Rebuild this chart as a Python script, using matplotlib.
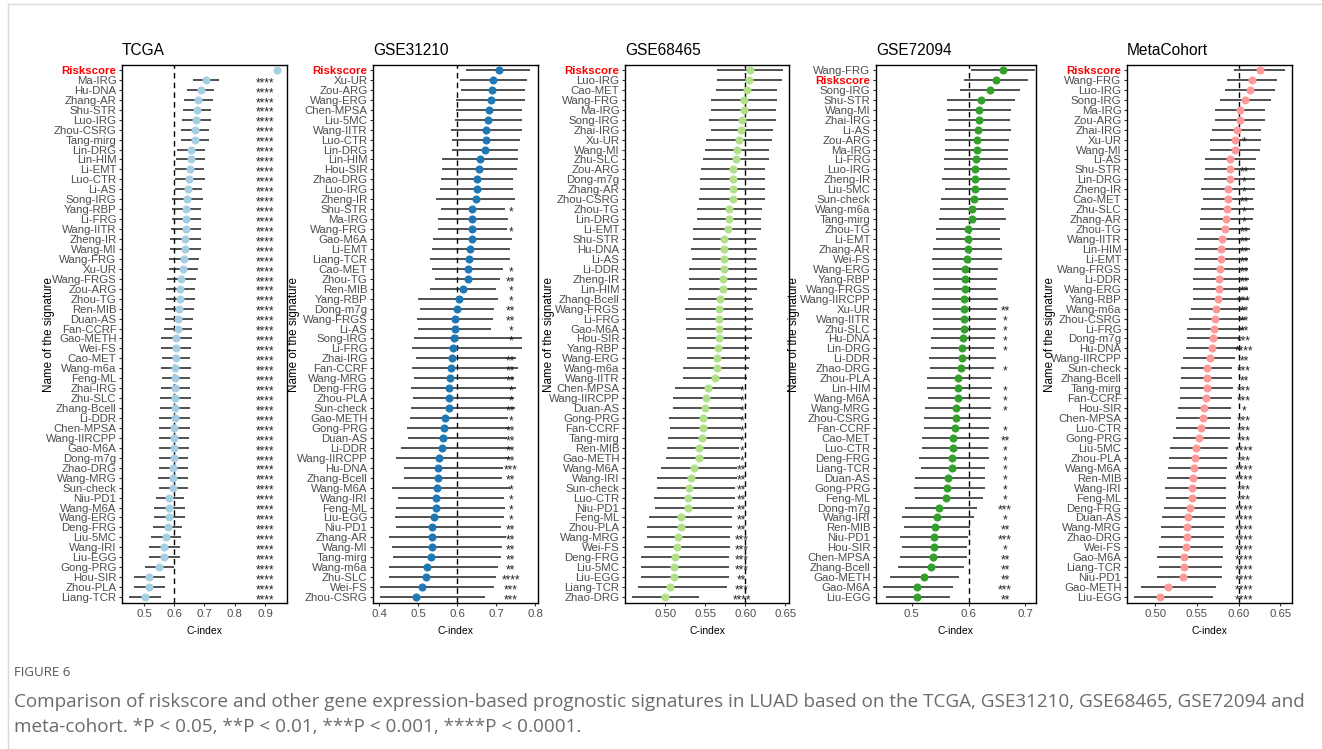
import matplotlib
matplotlib.use("Agg")
import matplotlib.pyplot as plt
from matplotlib.lines import Line2D

plt.rcParams["font.family"] = ["Liberation Sans", "DejaVu Sans"]

# ---------------- DATA ----------------
tcga_names = ["Riskscore", "Ma-IRG", "Hu-DNA", "Zhang-AR", "Shu-STR", "Luo-IRG", "Zhou-CSRG", "Tang-mirg",
              "Lin-DRG", "Lin-HIM", "Li-EMT", "Luo-CTR", "Li-AS", "Song-IRG", "Yang-RBP", "Li-FRG",
              "Wang-IITR", "Zheng-IR", "Wang-MI", "Wang-FRG", "Xu-UR", "Wang-FRGS", "Zou-ARG", "Zhou-TG",
              "Ren-MIB", "Duan-AS", "Fan-CCRF", "Gao-METH", "Wei-FS", "Cao-MET", "Wang-m6a", "Feng-ML",
              "Zhai-IRG", "Zhu-SLC", "Zhang-Bcell", "Li-DDR", "Chen-MPSA", "Wang-IIRCPP", "Gao-M6A",
              "Dong-m7g", "Zhao-DRG", "Wang-MRG", "Sun-check", "Niu-PD1", "Wang-M6A", "Wang-ERG",
              "Deng-FRG", "Liu-5MC", "Wang-IRI", "Liu-EGG", "Gong-PRG", "Hou-SIR", "Zhou-PLA", "Liang-TCR"]
tcga_est = [0.940, 0.704, 0.688, 0.679, 0.676, 0.672, 0.669, 0.668, 0.656, 0.654, 0.651, 0.650, 0.644,
            0.642, 0.640, 0.639, 0.638, 0.634, 0.634, 0.632, 0.629, 0.623, 0.620, 0.619, 0.616, 0.613,
            0.611, 0.607, 0.607, 0.606, 0.604, 0.604, 0.604, 0.603, 0.602, 0.601, 0.600, 0.598, 0.598,
            0.598, 0.596, 0.596, 0.596, 0.584, 0.584, 0.582, 0.578, 0.572, 0.567, 0.567, 0.551, 0.518,
            0.516, 0.503]
tcga_lo = [0.940, 0.662, 0.642, 0.632, 0.629, 0.624, 0.622, 0.622, 0.610, 0.607, 0.602, 0.601, 0.601,
           0.592, 0.593, 0.593, 0.590, 0.587, 0.587, 0.583, 0.581, 0.576, 0.573, 0.571, 0.568, 0.568,
           0.566, 0.556, 0.557, 0.559, 0.556, 0.558, 0.556, 0.553, 0.553, 0.551, 0.551, 0.551, 0.548,
           0.549, 0.549, 0.547, 0.549, 0.538, 0.534, 0.534, 0.531, 0.522, 0.517, 0.516, 0.503, 0.467,
           0.466, 0.450]
tcga_hi = [0.940, 0.749, 0.733, 0.728, 0.722, 0.722, 0.716, 0.716, 0.703, 0.703, 0.699, 0.703, 0.692,
           0.696, 0.690, 0.687, 0.687, 0.687, 0.687, 0.681, 0.679, 0.672, 0.670, 0.669, 0.664, 0.662,
           0.660, 0.657, 0.656, 0.653, 0.656, 0.653, 0.653, 0.656, 0.651, 0.651, 0.651, 0.648, 0.649,
           0.647, 0.647, 0.647, 0.644, 0.633, 0.637, 0.634, 0.626, 0.623, 0.618, 0.618, 0.600, 0.570,
           0.568, 0.556]
tcga_sig = [""] + ["****"] * 53

g312_names = ["Riskscore", "Xu-UR", "Zou-ARG", "Wang-ERG", "Chen-MPSA", "Liu-5MC", "Wang-IITR", "Luo-CTR",
              "Lin-DRG", "Lin-HIM", "Hou-SIR", "Zhao-DRG", "Luo-IRG", "Zheng-IR", "Shu-STR", "Ma-IRG",
              "Wang-FRG", "Gao-M6A", "Li-EMT", "Liang-TCR", "Cao-MET", "Zhou-TG", "Ren-MIB", "Yang-RBP",
              "Dong-m7g", "Wang-FRGS", "Li-AS", "Song-IRG", "Li-FRG", "Zhai-IRG", "Fan-CCRF", "Wang-MRG",
              "Deng-FRG", "Zhou-PLA", "Sun-check", "Gao-METH", "Gong-PRG", "Duan-AS", "Li-DDR",
              "Wang-IIRCPP", "Hu-DNA", "Zhang-Bcell", "Wang-M6A", "Wang-IRI", "Feng-ML", "Liu-EGG",
              "Niu-PD1", "Zhang-AR", "Wang-MI", "Tang-mirg", "Wang-m6a", "Zhu-SLC", "Wei-FS", "Zhou-CSRG"]
g312_est = [0.707, 0.692, 0.691, 0.686, 0.681, 0.680, 0.675, 0.675, 0.671, 0.658, 0.656, 0.651, 0.650,
            0.648, 0.639, 0.639, 0.639, 0.638, 0.634, 0.632, 0.627, 0.627, 0.615, 0.604, 0.599, 0.596,
            0.594, 0.592, 0.590, 0.586, 0.585, 0.581, 0.580, 0.579, 0.579, 0.570, 0.566, 0.565, 0.562,
            0.554, 0.550, 0.550, 0.548, 0.547, 0.546, 0.542, 0.537, 0.535, 0.535, 0.533, 0.524, 0.521,
            0.509, 0.496]
g312_lo = [0.624, 0.607, 0.609, 0.598, 0.597, 0.596, 0.585, 0.588, 0.586, 0.562, 0.562, 0.560, 0.556,
           0.545, 0.560, 0.550, 0.550, 0.538, 0.536, 0.531, 0.536, 0.544, 0.532, 0.501, 0.505, 0.498,
           0.499, 0.489, 0.485, 0.494, 0.485, 0.489, 0.481, 0.487, 0.483, 0.480, 0.472, 0.475, 0.456,
           0.444, 0.463, 0.463, 0.433, 0.449, 0.444, 0.441, 0.443, 0.425, 0.433, 0.436, 0.425, 0.425,
           0.403, 0.402]
g312_hi = [0.788, 0.780, 0.774, 0.775, 0.766, 0.766, 0.766, 0.761, 0.756, 0.756, 0.753, 0.744, 0.743,
           0.750, 0.722, 0.732, 0.728, 0.740, 0.735, 0.737, 0.719, 0.711, 0.701, 0.706, 0.696, 0.693,
           0.688, 0.767, 0.767, 0.752, 0.757, 0.745, 0.752, 0.745, 0.748, 0.732, 0.735, 0.729, 0.739,
           0.737, 0.718, 0.715, 0.737, 0.720, 0.723, 0.720, 0.712, 0.725, 0.716, 0.712, 0.706, 0.701,
           0.695, 0.673]
g312_sig = ["", "", "", "", "", "", "", "", "", "", "", "", "", "", "*", "", "*", "", "", "", "*", "**",
            "*", "*", "**", "**", "*", "*", "", "**", "**", "**", "*", "*", "**", "*", "**", "**", "**",
            "**", "***", "**", "*", "*", "*", "*", "**", "**", "**", "**", "**", "****", "***", "***"]

g684_names = ["Riskscore", "Luo-IRG", "Cao-MET", "Wang-FRG", "Ma-IRG", "Song-IRG", "Zhai-IRG", "Xu-UR",
              "Wang-MI", "Zhu-SLC", "Zou-ARG", "Dong-m7g", "Zhang-AR", "Zhou-CSRG", "Zhou-TG", "Lin-DRG",
              "Li-EMT", "Shu-STR", "Hu-DNA", "Li-AS", "Li-DDR", "Zheng-IR", "Lin-HIM", "Zhang-Bcell",
              "Wang-FRGS", "Li-FRG", "Gao-M6A", "Hou-SIR", "Yang-RBP", "Wang-ERG", "Wang-m6a",
              "Wang-IITR", "Chen-MPSA", "Wang-IIRCPP", "Duan-AS", "Gong-PRG", "Fan-CCRF", "Tang-mirg",
              "Ren-MIB", "Gao-METH", "Wang-M6A", "Wang-IRI", "Sun-check", "Luo-CTR", "Niu-PD1", "Feng-ML",
              "Zhou-PLA", "Wang-MRG", "Wei-FS", "Deng-FRG", "Liu-5MC", "Liu-EGG", "Liang-TCR", "Zhao-DRG"]
g684_est = [0.6054, 0.6050, 0.6020, 0.5980, 0.5980, 0.5960, 0.5950, 0.5920, 0.5890, 0.5880, 0.5850,
            0.5850, 0.5840, 0.5840, 0.5800, 0.5790, 0.5780, 0.5730, 0.5730, 0.5730, 0.5730, 0.5720,
            0.5720, 0.5680, 0.5675, 0.5675, 0.5675, 0.5670, 0.5660, 0.5650, 0.5640, 0.5625, 0.5530,
            0.5510, 0.5500, 0.5470, 0.5467, 0.5460, 0.5425, 0.5425, 0.5360, 0.5320, 0.5300, 0.5280,
            0.5280, 0.5200, 0.5190, 0.5160, 0.5140, 0.5120, 0.5110, 0.5104, 0.5054, 0.5000]
g684_lo = [0.5646, 0.5650, 0.5638, 0.5570, 0.5570, 0.5540, 0.5570, 0.5510, 0.5500, 0.5470, 0.5440,
           0.5430, 0.5430, 0.5420, 0.5400, 0.5390, 0.5350, 0.5340, 0.5320, 0.5330, 0.5300, 0.5290,
           0.5290, 0.5280, 0.5250, 0.5260, 0.5260, 0.5270, 0.5270, 0.5270, 0.5225, 0.5220, 0.5120,
           0.5090, 0.5090, 0.5050, 0.5060, 0.5030, 0.5020, 0.5004, 0.4946, 0.4900, 0.4900, 0.4860,
           0.4875, 0.4800, 0.4775, 0.4775, 0.4730, 0.4700, 0.4700, 0.4696, 0.4663, 0.4588]
g684_hi = [0.6467, 0.6460, 0.6400, 0.6390, 0.6380, 0.6380, 0.6340, 0.6330, 0.6300, 0.6300, 0.6250,
           0.6250, 0.6250, 0.6250, 0.6210, 0.6200, 0.6200, 0.6130, 0.6150, 0.6130, 0.6150, 0.6150,
           0.6150, 0.6080, 0.6100, 0.6090, 0.6080, 0.6080, 0.6050, 0.6060, 0.6050, 0.6020, 0.5967,
           0.5967, 0.5960, 0.5954, 0.5946, 0.5954, 0.5925, 0.5930, 0.5896, 0.5890, 0.5870, 0.5870,
           0.5860, 0.5837, 0.5830, 0.5810, 0.5810, 0.5800, 0.5800, 0.5796, 0.5767, 0.5421]
g684_sig = [""] * 32 + ["*"] * 8 + ["**"] * 7 + ["***"] * 4 + ["**", "***", "****"]

g720_names = ["Wang-FRG", "Riskscore", "Song-IRG", "Shu-STR", "Wang-MI", "Zhai-IRG", "Li-AS", "Zou-ARG",
              "Ma-IRG", "Li-FRG", "Luo-IRG", "Zheng-IR", "Liu-5MC", "Sun-check", "Wang-m6a", "Tang-mirg",
              "Zhou-TG", "Li-EMT", "Zhang-AR", "Wei-FS", "Wang-ERG", "Yang-RBP", "Wang-FRGS",
              "Wang-IIRCPP", "Xu-UR", "Wang-IITR", "Zhu-SLC", "Hu-DNA", "Lin-DRG", "Li-DDR", "Zhao-DRG",
              "Zhou-PLA", "Lin-HIM", "Wang-M6A", "Wang-MRG", "Zhou-CSRG", "Fan-CCRF", "Cao-MET",
              "Luo-CTR", "Deng-FRG", "Liang-TCR", "Duan-AS", "Gong-PRG", "Feng-ML", "Dong-m7g",
              "Wang-IRI", "Ren-MIB", "Niu-PD1", "Hou-SIR", "Chen-MPSA", "Zhang-Bcell", "Gao-METH",
              "Gao-M6A", "Liu-EGG"]
g720_est = [0.660, 0.648, 0.637, 0.622, 0.619, 0.618, 0.616, 0.614, 0.614, 0.6135, 0.612, 0.612, 0.612,
            0.609, 0.606, 0.606, 0.5994, 0.599, 0.598, 0.5977, 0.5935, 0.593, 0.593, 0.592, 0.592, 0.592,
            0.592, 0.5894, 0.588, 0.5877, 0.586, 0.582, 0.582, 0.5806, 0.578, 0.577, 0.5765, 0.573,
            0.5724, 0.571, 0.570, 0.563, 0.5625, 0.5595, 0.548, 0.5437, 0.5413, 0.539, 0.5384, 0.5367,
            0.5331, 0.5208, 0.5097, 0.509]
g720_lo = [0.605, 0.592, 0.584, 0.562, 0.562, 0.564, 0.559, 0.558, 0.558, 0.557, 0.557, 0.553, 0.558,
           0.551, 0.550, 0.548, 0.543, 0.543, 0.538, 0.5355, 0.537, 0.5367, 0.539, 0.5355, 0.536,
           0.5367, 0.5367, 0.534, 0.534, 0.531, 0.532, 0.526, 0.527, 0.528, 0.523, 0.5214, 0.522, 0.518,
           0.518, 0.5126, 0.517, 0.505, 0.504, 0.505, 0.4886, 0.4833, 0.4856, 0.480, 0.4827, 0.4792,
           0.4763, 0.4616, 0.4499, 0.454]
g720_hi = [0.717, 0.704, 0.691, 0.682, 0.674, 0.672, 0.674, 0.671, 0.670, 0.670, 0.668, 0.672, 0.666,
           0.669, 0.662, 0.665, 0.656, 0.655, 0.658, 0.659, 0.651, 0.650, 0.648, 0.6516, 0.650, 0.649,
           0.649, 0.646, 0.6446, 0.6475, 0.6446, 0.639, 0.641, 0.637, 0.640, 0.639, 0.636, 0.635,
           0.634, 0.635, 0.628, 0.6287, 0.6287, 0.6246, 0.614, 0.610, 0.6023, 0.5994, 0.5965, 0.5977,
           0.5918, 0.5836, 0.5724, 0.568]
g720_sig = [""] * 24 + ["**", "*", "*", "*", "*", "", "*", "", "*", "*", "*", "", "*", "**", "*", "*",
                        "*", "*", "*", "*", "***", "*", "**", "***", "*", "**", "**", "**", "***", "**"]

meta_names = ["Riskscore", "Wang-FRG", "Luo-IRG", "Song-IRG", "Ma-IRG", "Zou-ARG", "Zhai-IRG", "Xu-UR",
              "Wang-MI", "Li-AS", "Shu-STR", "Lin-DRG", "Zheng-IR", "Cao-MET", "Zhu-SLC", "Zhang-AR",
              "Zhou-TG", "Wang-IITR", "Lin-HIM", "Li-EMT", "Wang-FRGS", "Li-DDR", "Wang-ERG", "Yang-RBP",
              "Wang-m6a", "Zhou-CSRG", "Li-FRG", "Dong-m7g", "Hu-DNA", "Wang-IIRCPP", "Sun-check",
              "Zhang-Bcell", "Tang-mirg", "Fan-CCRF", "Hou-SIR", "Chen-MPSA", "Luo-CTR", "Gong-PRG",
              "Liu-5MC", "Zhou-PLA", "Wang-M6A", "Ren-MIB", "Wang-IRI", "Feng-ML", "Deng-FRG", "Duan-AS",
              "Wang-MRG", "Zhao-DRG", "Wei-FS", "Gao-M6A", "Liang-TCR", "Niu-PD1", "Gao-METH", "Liu-EGG"]
meta_est = [0.625, 0.6156, 0.6136, 0.6076, 0.6016, 0.601, 0.5976, 0.5956, 0.5956, 0.590, 0.5896, 0.589,
            0.5876, 0.587, 0.5864, 0.5844, 0.5836, 0.580, 0.5792, 0.5784, 0.577, 0.5768, 0.576, 0.5752,
            0.5732, 0.5716, 0.5704, 0.5696, 0.5676, 0.5652, 0.562, 0.562, 0.5616, 0.5612, 0.5588,
            0.5568, 0.5552, 0.5528, 0.5488, 0.5472, 0.5464, 0.5452, 0.544, 0.5436, 0.5416, 0.5396,
            0.538, 0.538, 0.5364, 0.5344, 0.534, 0.5328, 0.5148, 0.506]
meta_lo = [0.594, 0.5856, 0.5836, 0.577, 0.571, 0.571, 0.568, 0.565, 0.566, 0.560, 0.559, 0.558, 0.555,
           0.5576, 0.555, 0.553, 0.553, 0.550, 0.547, 0.548, 0.546, 0.5448, 0.5448, 0.545, 0.5424, 0.540,
           0.5384, 0.5384, 0.537, 0.5336, 0.5312, 0.531, 0.529, 0.530, 0.527, 0.5252, 0.5244, 0.5212,
           0.518, 0.516, 0.5152, 0.5144, 0.512, 0.5128, 0.5104, 0.508, 0.5072, 0.5068, 0.504, 0.5024,
           0.5048, 0.502, 0.4832, 0.4744]
meta_hi = [0.655, 0.646, 0.6436, 0.639, 0.6316, 0.6316, 0.627, 0.627, 0.626, 0.621, 0.620, 0.620, 0.620,
           0.617, 0.6184, 0.617, 0.614, 0.6132, 0.6132, 0.6116, 0.611, 0.612, 0.611, 0.611, 0.608,
           0.608, 0.606, 0.600, 0.600, 0.5952, 0.5924, 0.592, 0.5932, 0.592, 0.5912, 0.5904, 0.590,
           0.5892, 0.5872, 0.5864, 0.586, 0.585, 0.585, 0.5844, 0.5844, 0.5832, 0.5824, 0.5824, 0.5816,
           0.581, 0.580, 0.580, 0.5732, 0.5696]
meta_sig = ["", "", "", "", "", "", "", "*", "", "", "**", "*", "*", "**", "*", "*", "**", "**", "**",
            "**", "**", "**", "**", "***", "**", "**", "**", "***", "****", "**", "***", "**", "***",
            "***", "*", "***", "***", "***", "****", "***", "****", "****", "***", "***", "****", "****",
            "****", "****", "****", "****", "****", "****", "****", "****"]

panel_titles = ["TCGA", "GSE31210", "GSE68465", "GSE72094", "MetaCohort"]
ref_line = 0.6

# ---------------- STYLE / LAYOUT ----------------
W, H = 1322, 749
fig = plt.figure(figsize=(W / 100, H / 100), dpi=100)
fig.patch.set_facecolor("white")

panels = [
    dict(names=tcga_names, est=tcga_est, lo=tcga_lo, hi=tcga_hi, sig=tcga_sig, color="#a6cee3",
         box=(122, 287), xlim=(0.427, 0.973), ticks=[0.5, 0.6, 0.7, 0.8, 0.9], fmt="{:.1f}",
         starx=0.90, ylab=-0.405),
    dict(names=g312_names, est=g312_est, lo=g312_lo, hi=g312_hi, sig=g312_sig, color="#1f78b4",
         box=(373, 538), xlim=(0.3846, 0.8077), ticks=[0.4, 0.5, 0.6, 0.7, 0.8], fmt="{:.1f}",
         starx=0.738, ylab=-0.445),
    dict(names=g684_names, est=g684_est, lo=g684_lo, hi=g684_hi, sig=g684_sig, color="#b2df8a",
         box=(625, 789), xlim=(0.4496, 0.6546), ticks=[0.50, 0.55, 0.60, 0.65], fmt="{:.2f}",
         starx=0.5955, ylab=-0.424),
    dict(names=g720_names, est=g720_est, lo=g720_lo, hi=g720_hi, sig=g720_sig, color="#33a02c",
         box=(876, 1036), xlim=(0.437, 0.7185), ticks=[0.5, 0.6, 0.7], fmt="{:.1f}",
         starx=0.664, ylab=-0.472),
    dict(names=meta_names, est=meta_est, lo=meta_lo, hi=meta_hi, sig=meta_sig, color="#fb9a99",
         box=(1127, 1292), xlim=(0.466, 0.664), ticks=[0.50, 0.55, 0.60, 0.65], fmt="{:.2f}",
         starx=0.6064, ylab=-0.433),
]

top_px, bot_px = 65, 603
label_color = "#4d4d4d"

for title, p in zip(panel_titles, panels):
    l, r = p["box"]
    ax = fig.add_axes([l / W, 1 - bot_px / H, (r - l) / W, (bot_px - top_px) / H])
    n = len(p["names"])
    ys = list(range(n))
    ax.axvline(ref_line, color="black", lw=1.0, ls=(0, (4, 3)), zorder=1)
    for i in ys:
        if p["hi"][i] > p["lo"][i]:
            ax.plot([p["lo"][i], p["hi"][i]], [i, i], color="#222222", lw=1.1, zorder=2,
                    solid_capstyle="butt")
    ax.plot(p["est"], ys, "o", color=p["color"], ms=5.8, mec="none", zorder=3)
    for i in ys:
        if p["sig"][i]:
            ax.text(p["starx"], i + 0.62, p["sig"][i], ha="center", va="baseline", fontsize=8.5,
                    color="#222222", zorder=4)
    ax.set_ylim(n - 1 + 0.6, -0.5)
    ax.set_xlim(*p["xlim"])
    ax.set_yticks(ys)
    ax.set_yticklabels(p["names"], fontsize=8.2, color=label_color)
    for lab in ax.get_yticklabels():
        if lab.get_text() == "Riskscore":
            lab.set_color("red")
            lab.set_fontweight("bold")
    ax.set_xticks(p["ticks"])
    ax.set_xticklabels([p["fmt"].format(t) for t in p["ticks"]], fontsize=8.2, color=label_color)
    ax.tick_params(axis="both", length=2.5, width=0.8, color="#333333", pad=1.5)
    for s in ax.spines.values():
        s.set_linewidth(1.0)
        s.set_color("black")
    ax.set_xlabel("C-index", fontsize=7.5, labelpad=5)
    ax.set_ylabel("Name of the signature", fontsize=8.4)
    ax.yaxis.set_label_coords(p["ylab"], 0.5)
    ax.set_title(title, loc="left", fontsize=11.2, pad=7)

# frame lines
fig.add_artist(Line2D([8 / W, 8 / W], [0, 1 - 4 / H], color="#d9d9d9", lw=1))
fig.add_artist(Line2D([8 / W, 1], [1 - 4 / H, 1 - 4 / H], color="#d9d9d9", lw=1))

fig.text(14 / W, 1 - 672 / H, "FIGURE 6", fontsize=9.5, color="#555555", family="Open Sans",
         va="center", ha="left")
fig.text(14 / W, 1 - 702 / H,
         "Comparison of riskscore and other gene expression-based prognostic signatures in LUAD based on the TCGA, GSE31210, GSE68465, GSE72094 and",
         fontsize=13.6, color="#6b6b6b", family="Open Sans", va="center", ha="left")
fig.text(14 / W, 1 - 727 / H,
         "meta-cohort. *P < 0.05, **P < 0.01, ***P < 0.001, ****P < 0.0001.",
         fontsize=13.6, color="#6b6b6b", family="Open Sans", va="center", ha="left")

fig.savefig("out.png", dpi=100, facecolor="white")
